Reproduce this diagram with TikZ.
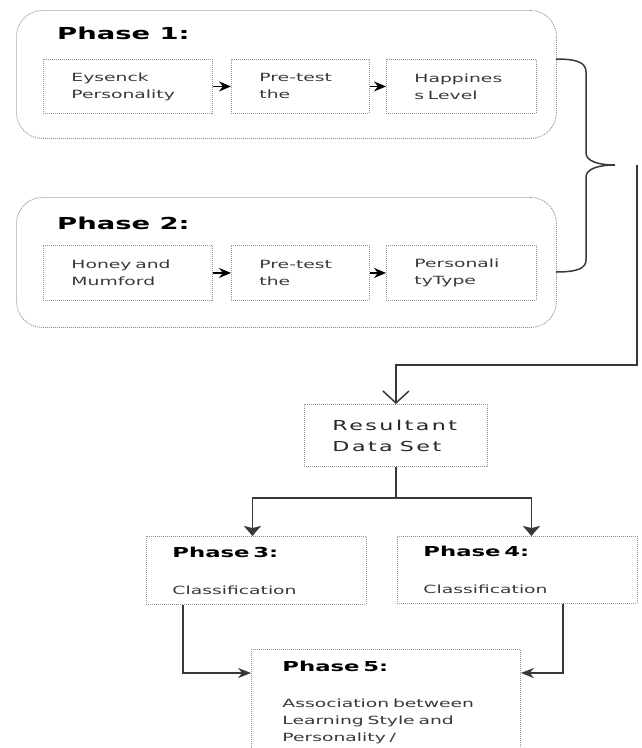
\documentclass[tikz,border=0pt]{standalone}
\usepackage{fontspec}
\setmainfont{DejaVu Sans}[FakeStretch=1.66]
\newfontfamily\spacedfont{DejaVu Sans}[FakeStretch=1.62,LetterSpace=18]
\usepackage{tikz}
\usetikzlibrary{arrows.meta,positioning}
\definecolor{boxline}{gray}{0.58}
\definecolor{bodytext}{gray}{0.22}
\definecolor{flowpen}{gray}{0.22}
\newcommand{\bigphase}{\fontsize{16.5}{20}\selectfont\bfseries}
\newcommand{\smallphase}{\fontsize{13.7}{17}\selectfont\bfseries}

\tikzset{
  phasebox/.style={draw=boxline, dash pattern=on 1pt off 1pt, line width=0.9pt,
    rounded corners=26pt, anchor=north west, inner sep=0pt},
  phasetitle/.style={font=\bigphase, text=black, inner sep=0pt, anchor=west},
  stepcard/.style={draw=boxline, dash pattern=on 1pt off 1pt, line width=0.9pt,
    anchor=north west, align=left, inner xsep=28pt, inner ysep=0pt,
    minimum height=54pt, text=bodytext, font=\fontsize{11.3}{17}\selectfont},
  stagecard/.style={draw=boxline, dash pattern=on 1pt off 1pt, line width=0.9pt,
    anchor=north west, align=left, inner xsep=26pt, inner ysep=0pt,
    text=bodytext, font=\fontsize{11.3}{17}\selectfont},
  steparrow/.style={draw=black, line width=1.5pt, -{Stealth[length=12pt,width=10pt]}},
  flowline/.style={draw=flowpen, line width=1.9pt},
}

\begin{document}
\begin{tikzpicture}[x=1pt,y=-1pt]
\useasboundingbox (0,0) rectangle (641,748);

\node[phasebox, minimum width=540pt, minimum height=128pt] (phase1) at (16,10) {};
\node[phasetitle] (title1) at (57,33) {Phase 1:};
\node[stepcard, text width=113pt] (eysenck) at (43,59) {Eysenck\\Personality};
\node[stepcard, text width=82pt] (pretest1) at (231,59) {Pre-test\\the};
\node[stepcard, text width=94pt] (happy) at (386,59) {Happines\\s Level};
\draw[steparrow] (eysenck) -- (pretest1);
\draw[steparrow] (pretest1) -- (happy);

\node[phasebox, minimum width=540pt, minimum height=130pt] (phase2) at (16,197) {};
\node[phasetitle] (title2) at (57,223) {Phase 2:};
\node[stepcard, minimum height=55pt, text width=113pt] (honey) at (43,245) {Honey and\\Mumford};
\node[stepcard, minimum height=55pt, text width=82pt] (pretest2) at (231,245) {Pre-test\\the};
\node[stepcard, minimum height=55pt, text width=94pt] (ptype) at (386,245) {Personali\\tyType};
\draw[steparrow] (honey) -- (pretest2);
\draw[steparrow] (pretest2) -- (ptype);

\draw[draw=flowpen, line width=1.5pt]
  (556,59) .. controls (578,59) and (586,63) .. (586,72) -- (586,153)
  .. controls (586,161) and (598,165) .. (615,165)
  .. controls (598,165) and (586,169) .. (586,177) -- (586,260)
  .. controls (586,268) and (578,272) .. (556,272);

\node[stepcard, minimum height=62pt, text width=127pt, text=black!85,
  font=\spacedfont\fontsize{13.7}{21}\selectfont] (result) at (304,404) {Resultant\\Data\hspace{7pt}Set};

\coordinate (drop) at (637,165);
\coordinate (elbow) at (637,365);
\draw[flowline, -{Straight Barb[length=12pt,width=26pt,line width=1.5pt]}]
  (drop) -- (elbow) -| (result.north);

\node[stagecard, minimum width=220pt, minimum height=68pt, text width=168pt] (classA) at (146,536)
  {{\smallphase\color{black}Phase 3:}\\[20pt]Classification};
\node[stagecard, minimum width=240pt, minimum height=67pt, text width=188pt] (classB) at (397,536)
  {{\smallphase\color{black}Phase 4:}\\[20pt]Classification};

\draw[flowline] (result.south) -- ++(0,31) coordinate (split);
\draw[flowline, -{Stealth[length=10pt,width=17pt,inset=2pt]}] (split) -| ([xshift=-4pt]classA.north);
\draw[flowline, -{Stealth[length=10pt,width=17pt,inset=2pt]}] (split) -| ([xshift=14pt]classB.north);

\node[stagecard, inner xsep=31pt, inner ysep=12pt, text width=207pt] (assoc) at (251,649)
  {{\smallphase\color{black}Phase 5:}\\[19pt]Association between\\Learning Style and\\Personality /};

\draw[flowline, -{Stealth[length=13pt,width=10pt]}]
  ([xshift=37pt]classA.south west) |- ([yshift=-24pt]assoc.north west);
\draw[flowline, -{Stealth[length=13pt,width=10pt]}]
  ([xshift=166pt]classB.south west) |- ([yshift=-24pt]assoc.north east);
\end{tikzpicture}
\end{document}
